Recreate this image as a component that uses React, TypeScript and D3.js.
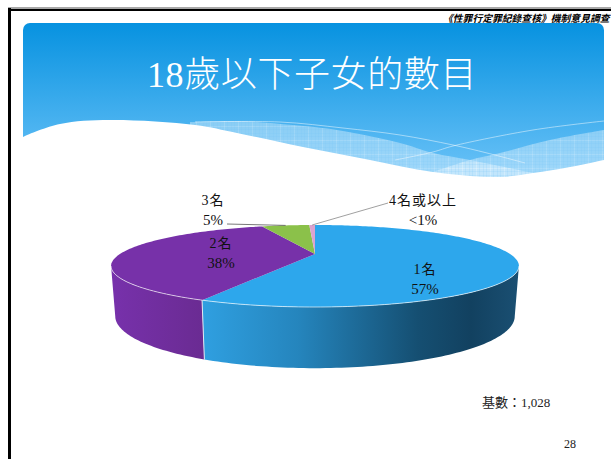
import React from "react";
import * as d3 from "d3";

const width = 611;
const height = 459;

const categories = ["1名", "2名", "3名", "4名或以上"];
const shares = [57, 37.4, 5, 0.6];
const percentLabels = ["57%", "38%", "5%", "<1%"];
const topColors = ["#2da7ec", "#7731a9", "#8bc14a", "#dca3cf"];

const baseLabel = "基數：1,028";
const pageNumber = "28";
const titleText = "18歲以下子女的數目";
const headerText = "《性罪行定罪紀錄查核》機制意見調查";

// slide artwork, not data
const waveEdge: [number, number][] = [
  [20, 139], [23, 137], [60, 124], [110, 120], [195, 125], [237, 133], [303, 147], [370, 160],
  [433, 172], [500, 177], [533, 173], [570, 167], [604, 160], [608, 159],
];
const bandLeft: [number, number][] = [
  [190, 122], [240, 121], [293, 125], [337, 130], [400, 143], [433, 153], [470, 160], [533, 173],
];
const bandRight: [number, number][] = [[433, 172], [470, 160], [500, 153], [550, 140], [604, 130]];
const lineOne: [number, number][] = [[195, 122], [280, 122], [343, 128], [400, 135], [453, 145], [487, 153], [525, 163]];
const lineTwo: [number, number][] = [[395, 160], [433, 152], [453, 146], [533, 130], [604, 121]];

// label anchors: [label x, first line y]
const labelAnchors: [number, number][] = [[425, 274], [221, 248], [213, 205], [423, 205]];

// projection of the tilted disc
const cx = 315;
const topY = 254;
const bottomY = 301;
const k = 0.2927;
const project = (angle: number, bottom = false): [number, number] => {
  const u = Math.sin(angle);
  const v = Math.cos(angle);
  const w = 1 + k * v;
  const b = bottom ? 191 : 195;
  const a = bottom ? 47.5 : 37.5;
  return [cx + (b * u) / w, (bottom ? bottomY : topY) - (a * v) / w];
};

const sampleAngles = (from: number, to: number) => {
  const n = Math.max(2, Math.ceil(Math.abs(to - from) / 0.02));
  const scale = d3.scaleLinear().domain([0, n]).range([from, to]);
  return d3.range(n + 1).map((i) => scale(i));
};

const line = d3.line<[number, number]>();
const smooth = d3.line<[number, number]>().curve(d3.curveCatmullRom.alpha(0.5));

const arcs = d3
  .pie<number>()
  .sort(null)
  .startAngle(0)
  .endAngle(2 * Math.PI)(shares);

// the wall shows only between the two side extremes of the disc
const wallStart = Math.acos(-k);
const wallEnd = 2 * Math.PI - wallStart;

const serif = "'Liberation Serif', 'Noto Sans CJK TC', serif";

const waveClosed = (pts: [number, number][]) =>
  `${smooth(pts)}L${pts[pts.length - 1][0]},${pts[0][1] + 60}L${pts[0][0]},${pts[0][1] + 60}Z`;

export default function App() {
  const topPath = (startAngle: number, endAngle: number) => {
    const pts = sampleAngles(startAngle, endAngle).map((a) => project(a));
    return `M${cx},${topY}L${line(pts)!.slice(1)}Z`;
  };
  const wallPath = (from: number, to: number) => {
    const upper = sampleAngles(from, to).map((a) => project(a));
    const lower = sampleAngles(to, from).map((a) => project(a, true));
    return `${line(upper)}L${line(lower)!.slice(1)}Z`;
  };
  const frontRim = sampleAngles(wallStart, wallEnd).map((a) => project(a));
  const seamAngle = arcs[0].endAngle;

  const mid3 = (arcs[2].startAngle + arcs[2].endAngle) / 2;
  const mid4 = (arcs[3].startAngle + arcs[3].endAngle) / 2;

  return (
    <svg
      width={width}
      height={height}
      style={{ position: "absolute", left: 0, top: 0, background: "#fff" }}
    >
      <defs>
        <linearGradient id="banner" x1="0" y1="23" x2="0" y2="178" gradientUnits="userSpaceOnUse">
          <stop offset="0" stopColor="#0792e0" />
          <stop offset="1" stopColor="#6cc3f8" />
        </linearGradient>
        <linearGradient id="blueWall" x1="204" x2="518" y1="0" y2="0" gradientUnits="userSpaceOnUse">
          <stop offset="0" stopColor="#2f9fe0" />
          <stop offset="0.3" stopColor="#2585bd" />
          <stop offset="0.68" stopColor="#154f72" />
          <stop offset="0.85" stopColor="#124160" />
          <stop offset="1" stopColor="#1a4f72" />
        </linearGradient>
        <linearGradient id="purpleWall" x1="113" x2="204" y1="0" y2="0" gradientUnits="userSpaceOnUse">
          <stop offset="0" stopColor="#7731ab" />
          <stop offset="1" stopColor="#6a2b92" />
        </linearGradient>
        <pattern id="weave" width="14" height="14" patternUnits="userSpaceOnUse">
          <rect width="14" height="14" fill="#ffffff" fillOpacity="0.36" />
          <path d="M0,0.5H14M0.5,0V14" stroke="#ffffff" strokeOpacity="0.14" />
          <path d="M0,3.5H14M0,7.5H14M0,10.5H14M3.5,0V14M7.5,0V14M10.5,0V14" stroke="#5fbdf5" strokeOpacity="0.1" />
        </pattern>
        <clipPath id="bannerClip">
          <rect x="23" y="23" width="581" height="160" rx="7" />
        </clipPath>
      </defs>

      {/* page frame */}
      <rect x="8" y="7" width={width - 8} height="2" fill="#a8a8a8" />
      <rect x="8" y="9" width={width - 8} height="2" fill="#000" />
      <rect x="8" y="8" width="3" height={height - 8} fill="#000" />

      <text
        x="443"
        y="22"
        fontFamily={serif}
        fontSize="9.8"
        fontWeight="bold"
        fontStyle="italic"
        fill="#000"
      >
        {headerText}
      </text>

      {/* banner */}
      <g clipPath="url(#bannerClip)">
        <rect x="23" y="23" width="581" height="160" fill="url(#banner)" />
        <path d={waveClosed(bandLeft)} fill="url(#weave)" />
        <path d={waveClosed(bandRight)} fill="url(#weave)" />
        <path d={smooth(lineOne)!} fill="none" stroke="#ffffff" strokeOpacity="0.6" strokeWidth="0.8" />
        <path d={smooth(lineTwo)!} fill="none" stroke="#ffffff" strokeOpacity="0.6" strokeWidth="0.8" />
      </g>
      {/* white cut-out drawn past the clip so no fringe shows at the banner's edge */}
      <path d={waveClosed(waveEdge)} fill="#fff" />
      <text
        x="147"
        y="87"
        fontFamily={serif}
        fontSize="36"
        fontWeight="300"
        letterSpacing="0.6"
        fill="#fff"
      >
        {titleText}
      </text>

      {/* pie walls */}
      <path d={wallPath(wallStart, seamAngle)} fill="url(#blueWall)" />
      <path d={wallPath(seamAngle, wallEnd)} fill="url(#purpleWall)" />
      <path d={line([project(seamAngle), project(seamAngle, true)])!} stroke="#dfe9f2" strokeWidth="1" fill="none" />

      {/* pie top */}
      {arcs.map((d, i) => (
        <path key={categories[i]} d={topPath(d.startAngle, d.endAngle)} fill={topColors[i]} />
      ))}
      <path d={line(frontRim)!} fill="none" stroke="#fff" strokeWidth="0.8" strokeOpacity="0.8" />

      {/* leader lines */}
      <path d={line([[227, 224], project(mid3)])!} fill="none" stroke="#555" strokeWidth="0.8" />
      <path d={line([[388, 203], project(mid4)])!} fill="none" stroke="#888" strokeWidth="0.8" />

      {/* labels */}
      {categories.map((c, i) => (
        <g key={c} fontFamily={serif} textAnchor="middle" fill="#111">
          <text x={labelAnchors[i][0]} y={labelAnchors[i][1]} fontSize="14" letterSpacing="1">
            {c}
          </text>
          <text x={labelAnchors[i][0]} y={labelAnchors[i][1] + 20} fontSize="15">
            {percentLabels[i]}
          </text>
        </g>
      ))}

      <text x="482" y="407" fontFamily={serif} fontSize="13" fill="#222">
        {baseLabel}
      </text>
      <text x="564" y="448" fontFamily={serif} fontSize="12" fill="#222">
        {pageNumber}
      </text>
    </svg>
  );
}
